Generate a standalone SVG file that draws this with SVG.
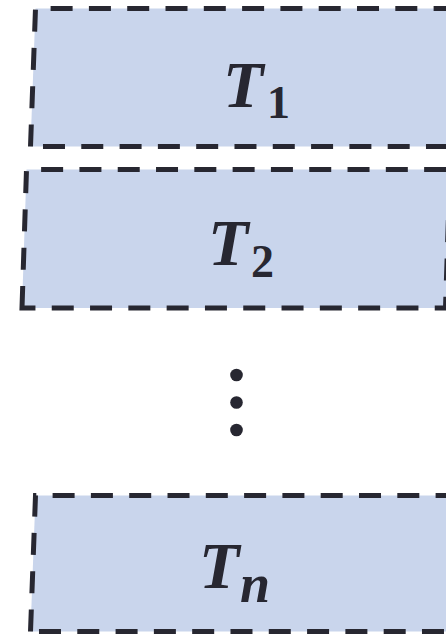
<svg xmlns="http://www.w3.org/2000/svg" width="446" height="635" viewBox="0 0 446 635">
  <style>
    .box { fill: #C9D5EC; stroke: #272731; stroke-width: 5; stroke-dasharray: 22 16.3; stroke-linejoin: miter; }
    .lbl { font-family: "Liberation Serif", "DejaVu Serif", serif; font-weight: bold; fill: #272731; }
    .T { font-style: italic; font-size: 66px; }
    .sub { font-style: normal; font-size: 46px; }
    .subi { font-style: italic; font-size: 54px; }
    .dot { fill: #272731; }
  </style>
  <rect width="446" height="635" fill="#FFFFFF"/>
  <g id="node-t1">
    <path class="box" d="M30.5,146.5 L35.5,8.5 L470,8.5 L465,146.5 Z"/>
    <text class="lbl T" x="223" y="107">T</text>
    <text class="lbl sub" x="267" y="118">1</text>
  </g>
  <g id="node-t2">
    <path class="box" d="M22,308 L26.5,169.5 L450,169.5 L445.5,308 Z"/>
    <text class="lbl T" x="208" y="265">T</text>
    <text class="lbl sub" x="251" y="277">2</text>
  </g>
  <g id="ellipsis">
    <circle class="dot" cx="236.5" cy="375" r="6.3"/>
    <circle class="dot" cx="236.5" cy="402.5" r="6.3"/>
    <circle class="dot" cx="236.5" cy="430" r="6.3"/>
  </g>
  <g id="node-tn">
    <path class="box" d="M30.5,631.5 L35.5,495.5 L470,495.5 L465,631.5 Z"/>
    <text class="lbl T" x="199" y="588">T</text>
    <text class="lbl subi" x="240" y="602">n</text>
  </g>
  <g id="connectors"/>
</svg>
